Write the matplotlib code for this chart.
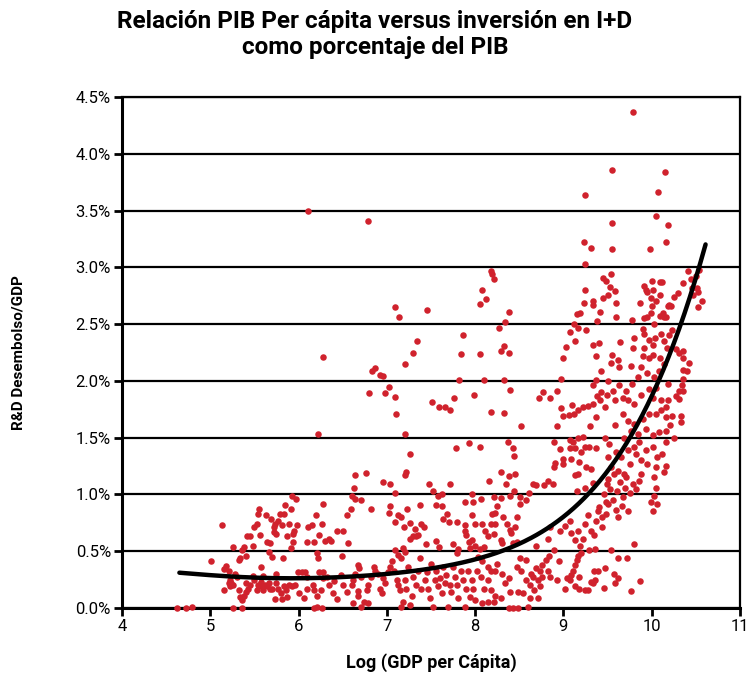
import numpy as np
import matplotlib
matplotlib.use("Agg")
from matplotlib import pyplot as plt

# points, grouped by region: (log GDP per capita, R&D % of GDP)
low_income = [
    (4.62, 0.0), (4.73, 0.0), (4.79, 0.01), (5.01, 0.41), (5.13, 0.73), (5.26, 0.54), (5.26, 0.0),
    (5.36, 0.0), (5.18, 0.37), (5.15, 0.34), (5.21, 0.33), (5.16, 0.16), (5.22, 0.25), (5.24, 0.22),
    (5.28, 0.30), (5.30, 0.27), (5.32, 0.42), (5.34, 0.44), (5.36, 0.51), (5.38, 0.54), (5.41, 0.46),
    (5.42, 0.63), (5.45, 0.63), (5.48, 0.55), (5.50, 0.71), (5.53, 0.74), (5.54, 0.83), (5.55, 0.87),
    (5.56, 0.64), (5.58, 0.36), (5.60, 0.28), (5.63, 0.82), (5.64, 0.58), (5.66, 0.49), (5.68, 0.57),
    (5.70, 0.45), (5.72, 0.71), (5.72, 0.67), (5.73, 0.74), (5.75, 0.65), (5.77, 0.77), (5.69, 0.78),
    (5.74, 0.30), (5.79, 0.83), (5.81, 0.73), (5.82, 0.44), (5.84, 0.83), (5.85, 0.91), (5.87, 0.63),
    (5.89, 0.74), (5.91, 0.87), (5.91, 0.53), (5.92, 0.99), (5.94, 0.58), (5.94, 0.65), (5.95, 0.68),
    (5.97, 0.96), (5.98, 0.73), (5.99, 0.32), (6.04, 0.32), (6.07, 0.32), (6.09, 0.58), (6.09, 0.27),
    (6.11, 0.71), (6.15, 0.73), (6.17, 0.58), (6.20, 0.82), (6.21, 0.48), (6.22, 0.44), (6.23, 0.64),
    (6.23, 0.32), (6.27, 0.74), (6.28, 0.92), (6.28, 0.32), (6.30, 0.59), (6.32, 0.27),
    (5.21, 0.22), (5.22, 0.19), (5.26, 0.20), (5.32, 0.16), (5.34, 0.10), (5.36, 0.07), (5.38, 0.11),
    (5.40, 0.14), (5.41, 0.22), (5.43, 0.17), (5.45, 0.20), (5.48, 0.28), (5.50, 0.25), (5.53, 0.16),
    (5.54, 0.20), (5.56, 0.19), (5.58, 0.23), (5.60, 0.16), (5.62, 0.20), (5.64, 0.19), (5.66, 0.22),
    (5.68, 0.17), (5.70, 0.17), (5.73, 0.08), (5.75, 0.22), (5.77, 0.17), (5.80, 0.13), (5.81, 0.08),
    (5.84, 0.19), (5.86, 0.16), (5.87, 0.10), (5.89, 0.20), (5.92, 0.19), (5.96, 0.20), (6.01, 0.13),
    (6.06, 0.09), (6.09, 0.17), (6.16, 0.20), (6.18, 0.16), (6.21, 0.11), (6.25, 0.16), (6.17, 0.0),
    (6.21, 0.01), (6.26, 0.0),
    (6.11, 3.50), (6.79, 3.41), (6.22, 1.53), (6.28, 2.21),
]

middle_income = [
    (6.64, 1.17), (6.76, 1.19), (7.22, 1.20), (7.20, 1.17), (6.96, 1.11), (7.03, 1.09), (7.09, 1.01),
    (7.48, 1.09), (7.52, 1.03), (7.58, 0.99), (7.63, 1.00), (7.72, 1.09), (7.97, 1.00), (6.63, 1.06),
    (6.61, 0.99), (6.64, 0.96), (6.71, 0.95), (6.82, 0.87), (6.59, 0.87), (6.55, 0.82), (7.03, 0.90),
    (7.02, 0.84), (7.09, 0.76), (7.13, 0.82), (7.16, 0.80), (7.23, 0.87), (7.37, 0.91), (7.56, 0.91),
    (7.63, 0.90), (7.68, 0.83), (7.64, 0.78), (7.70, 0.76), (7.80, 0.76), (7.88, 0.93), (7.98, 0.93),
    (7.96, 0.82), (7.89, 0.73), (8.00, 0.74), (6.43, 0.68), (6.50, 0.68), (6.35, 0.61), (6.37, 0.59),
    (6.56, 0.57), (7.19, 0.71), (7.26, 0.75), (7.32, 0.70), (7.35, 0.64), (7.39, 0.74), (7.42, 0.71),
    (7.26, 0.61), (7.30, 0.63), (7.33, 0.63), (7.44, 0.56), (7.56, 0.59), (7.59, 0.54), (7.75, 0.56),
    (7.81, 0.52), (7.79, 0.48), (7.90, 0.64), (7.93, 0.58), (7.96, 0.60), (8.00, 0.55), (7.88, 0.68),
    (7.94, 0.53), (7.09, 0.51), (7.13, 0.47), (7.18, 0.53), (7.21, 0.49), (7.16, 0.44), (6.49, 0.46),
    (6.28, 0.26), (6.35, 0.20), (6.39, 0.13), (6.43, 0.08), (6.40, 0.24), (6.48, 0.29), (6.50, 0.20),
    (6.55, 0.14), (6.60, 0.20), (6.62, 0.25), (6.64, 0.30), (6.67, 0.38), (6.69, 0.35), (6.71, 0.27),
    (6.67, 0.11), (6.67, 0.15), (6.62, 0.04), (6.71, 0.01), (6.74, 0.055), (6.79, 0.04), (6.79, 0.20),
    (6.77, 0.16), (6.82, 0.27), (6.85, 0.36), (6.87, 0.33), (6.90, 0.30), (6.92, 0.17), (6.94, 0.13),
    (6.96, 0.26), (6.98, 0.22), (7.01, 0.32), (7.03, 0.36), (7.06, 0.41), (7.08, 0.33), (7.11, 0.25),
    (7.13, 0.20), (7.15, 0.16), (7.16, 0.01), (7.18, 0.055), (7.20, 0.25), (7.22, 0.17), (7.24, 0.36),
    (7.26, 0.03), (7.28, 0.11), (7.30, 0.27), (7.33, 0.20), (7.35, 0.33), (7.37, 0.44), (7.39, 0.17),
    (7.43, 0.25), (7.45, 0.32), (7.47, 0.17), (7.49, 0.085), (7.50, 0.39), (7.52, 0.01), (7.54, 0.25),
    (7.56, 0.33), (7.58, 0.19), (7.60, 0.26), (7.62, 0.13), (7.64, 0.36), (7.66, 0.22), (7.67, 0.29),
    (7.69, 0.01), (7.71, 0.20), (7.73, 0.14), (7.75, 0.36), (7.77, 0.27), (7.79, 0.20), (7.81, 0.085),
    (7.84, 0.33), (7.86, 0.25), (7.88, 0.01), (7.90, 0.17), (7.92, 0.33), (7.94, 0.10), (7.96, 0.25),
    (7.98, 0.17), (8.00, 0.07), (8.02, 0.33),
    (6.83, 2.09), (6.87, 2.11), (6.92, 2.05), (6.96, 2.04), (6.80, 1.89), (6.98, 1.89), (7.02, 1.95),
    (7.09, 1.86), (7.10, 1.71), (7.20, 2.15), (7.30, 2.25), (7.34, 2.35), (7.21, 1.53), (7.26, 1.36),
    (7.09, 2.65), (7.14, 2.56), (7.51, 1.81),
]

upper_middle = [
    (8.16, 1.12), (8.29, 1.20), (8.38, 1.16), (8.45, 1.18), (8.35, 1.09), (8.44, 1.03), (8.69, 1.08),
    (8.66, 1.09), (8.78, 1.08), (8.82, 1.12), (8.88, 1.09), (8.61, 1.01), (9.13, 1.17), (9.15, 1.03),
    (9.17, 1.18), (9.24, 1.06), (9.33, 1.10),
    (8.07, 0.96), (8.21, 0.98), (8.29, 0.97), (8.40, 0.99), (8.51, 0.92), (8.58, 0.95), (8.51, 0.98),
    (8.19, 0.83), (8.23, 0.84), (8.18, 0.74), (8.22, 0.74), (8.21, 0.65), (8.11, 0.68), (8.08, 0.74),
    (8.25, 0.90), (8.32, 0.80), (8.36, 0.74), (8.40, 0.69), (8.41, 0.66), (8.45, 0.71), (8.47, 0.80),
    (8.43, 0.57), (8.47, 0.58), (8.29, 0.60), (8.30, 0.57), (8.10, 0.54), (8.05, 0.52), (8.14, 0.63),
    (8.69, 0.55), (8.82, 0.61), (8.85, 0.71), (8.89, 0.51), (8.96, 0.68), (9.02, 0.72), (9.07, 0.77),
    (9.09, 0.66), (9.13, 0.60), (9.17, 0.68), (9.19, 0.55), (9.22, 0.61), (9.24, 0.74), (9.28, 0.82),
    (9.29, 0.51), (9.31, 0.68), (9.35, 0.64),
    (8.03, 0.45), (8.08, 0.41), (8.14, 0.36), (8.18, 0.33), (8.07, 0.27), (8.14, 0.25), (8.23, 0.33),
    (8.25, 0.39), (8.30, 0.30), (8.10, 0.17), (8.18, 0.16), (8.23, 0.11), (8.29, 0.085), (8.08, 0.04),
    (8.14, 0.055), (8.21, 0.055), (8.38, 0.0), (8.43, 0.0), (8.49, 0.0), (8.60, 0.01), (8.34, 0.22),
    (8.38, 0.26), (8.40, 0.14), (8.47, 0.36), (8.51, 0.44), (8.52, 0.33), (8.58, 0.42), (8.58, 0.25),
    (8.62, 0.20), (8.63, 0.30), (8.65, 0.27), (8.69, 0.35), (8.71, 0.25), (8.73, 0.33), (8.74, 0.19),
    (8.76, 0.27), (8.76, 0.38), (8.80, 0.42), (8.82, 0.33), (8.84, 0.46), (8.85, 0.27), (8.62, 0.085),
    (8.71, 0.085), (8.67, 0.16), (8.49, 0.14), (8.54, 0.13), (8.93, 0.25), (8.95, 0.41), (9.02, 0.17),
    (9.04, 0.26), (9.07, 0.25), (9.09, 0.29), (9.11, 0.33), (9.13, 0.38), (9.15, 0.42), (9.17, 0.46),
    (9.20, 0.48), (9.18, 0.27), (9.13, 0.19), (9.18, 0.17), (9.24, 0.16), (9.28, 0.16), (9.31, 0.23),
    (9.35, 0.33), (9.33, 0.22),
    (7.82, 2.01), (8.10, 2.01), (8.33, 2.01), (8.40, 1.92), (7.99, 1.88), (7.76, 1.85), (7.59, 1.77),
    (7.66, 1.77), (7.72, 1.74), (8.18, 1.73), (8.33, 1.72), (8.52, 1.60), (7.93, 1.45), (7.78, 1.41),
    (8.05, 1.42), (8.37, 1.46), (8.43, 1.41), (8.44, 1.34), (8.85, 1.85), (8.77, 1.90), (8.72, 1.85),
    (8.93, 1.91), (8.97, 2.02), (8.97, 1.76), (9.00, 1.69), (9.06, 1.70), (9.10, 1.79), (9.12, 1.71),
    (9.17, 1.74), (9.22, 1.77), (9.28, 1.78), (9.33, 1.80), (9.30, 1.60), (9.38, 1.87), (9.34, 1.96),
    (9.43, 1.90), (8.93, 1.60), (8.89, 1.46), (8.96, 1.40), (9.07, 1.48), (9.11, 1.46), (9.17, 1.50),
    (9.22, 1.51), (9.07, 1.41), (9.13, 1.41), (9.20, 1.37), (9.24, 1.42), (9.29, 1.42), (9.37, 1.41),
    (9.00, 1.31), (9.09, 1.31), (9.18, 1.29), (9.26, 1.24), (9.31, 1.22), (8.91, 1.28), (8.89, 1.24),
    (8.99, 1.27),
]

high_income = [
    (9.37, 0.77), (9.39, 0.85), (9.40, 0.89), (9.44, 0.71), (9.48, 0.93), (9.46, 1.00), (9.49, 1.09),
    (9.51, 1.14), (9.53, 1.05), (9.56, 0.95), (9.59, 0.86), (9.61, 1.03), (9.64, 1.11), (9.66, 0.90),
    (9.68, 0.98), (9.70, 1.06), (9.71, 1.15), (9.73, 0.85), (9.75, 1.01), (9.79, 1.09), (9.82, 1.05),
    (9.86, 1.12), (9.88, 1.18), (9.48, 0.83), (9.44, 0.80), (9.57, 1.18), (9.62, 0.80), (9.50, 0.92),
    (9.36, 0.52), (9.54, 0.51), (9.80, 0.56), (9.62, 0.44), (9.72, 0.44), (9.39, 0.33), (9.47, 0.35),
    (9.36, 0.25), (9.57, 0.30), (9.62, 0.26), (9.58, 0.22), (9.46, 0.18), (9.87, 0.24), (9.76, 0.15),
    (10.03, 1.15), (10.14, 1.20), (10.05, 1.06), (10.03, 0.99), (9.99, 0.93), (10.06, 0.92), (10.01, 0.85),
    (9.54, 2.16), (9.62, 2.18), (9.43, 2.09), (9.37, 2.01), (9.50, 2.00), (9.63, 2.12), (9.77, 2.13),
    (10.14, 2.15), (10.08, 2.09), (10.03, 2.03), (9.95, 2.07), (9.88, 2.12), (9.84, 2.03), (9.78, 1.97),
    (9.71, 1.91), (9.63, 1.96), (9.56, 1.91), (9.49, 1.88), (9.41, 1.83), (9.37, 1.68), (9.47, 1.77),
    (9.58, 1.83), (9.67, 1.85), (9.73, 1.83), (9.80, 1.80), (9.88, 1.88), (9.97, 1.93), (10.05, 1.94),
    (10.01, 1.85), (10.10, 1.83), (10.16, 1.77), (10.19, 1.83), (10.27, 1.87), (10.31, 1.91), (10.34, 1.96),
    (10.36, 2.02), (10.18, 1.97), (10.42, 2.16), (10.36, 2.10), (10.40, 2.09), (9.58, 1.61), (9.67, 1.71),
    (9.73, 1.65), (9.80, 1.62), (9.90, 1.66), (9.97, 1.71), (10.05, 1.71), (10.10, 1.74), (10.16, 1.68),
    (10.23, 1.69), (10.21, 1.61), (10.16, 1.56), (10.08, 1.55), (10.01, 1.52), (9.93, 1.58), (9.84, 1.53),
    (9.77, 1.56), (9.69, 1.50), (9.47, 1.50), (9.52, 1.44), (9.60, 1.37), (9.65, 1.33), (9.73, 1.39),
    (9.80, 1.42), (9.86, 1.46), (9.93, 1.39), (10.01, 1.42), (10.06, 1.33), (10.12, 1.36), (10.16, 1.25),
    (10.05, 1.24), (9.95, 1.27), (9.88, 1.30), (9.82, 1.36), (9.75, 1.27), (9.69, 1.18), (9.62, 1.21),
    (9.54, 1.24), (9.50, 1.33), (10.16, 1.46), (10.25, 1.50), (10.36, 1.91), (10.31, 1.84), (10.33, 1.69),
    (10.33, 1.64),
]

top_spenders = [
    (9.79, 4.37), (9.55, 3.86), (10.15, 3.84), (9.25, 3.64), (10.07, 3.66), (10.05, 3.45), (9.55, 3.39),
    (10.19, 3.37), (9.23, 3.22), (9.31, 3.17), (9.55, 3.16), (9.98, 3.16), (10.16, 3.22), (9.25, 3.03),
    (8.18, 2.97), (8.19, 2.94), (8.21, 2.90), (8.08, 2.80), (8.12, 2.72), (8.05, 2.68), (8.38, 2.61),
    (8.34, 2.52), (8.27, 2.47), (7.46, 2.62), (7.86, 2.40), (7.84, 2.24), (8.05, 2.24), (8.29, 2.26),
    (8.33, 2.31), (8.38, 2.25),
    (9.45, 2.91), (9.48, 2.88), (9.54, 2.94), (9.53, 2.83), (9.58, 2.79), (9.50, 2.76), (9.45, 2.73),
    (9.25, 2.80), (9.23, 2.69), (9.33, 2.70), (9.33, 2.67), (9.41, 2.61), (9.15, 2.59), (9.19, 2.60),
    (9.12, 2.50), (9.16, 2.47), (9.07, 2.43), (9.26, 2.45), (9.38, 2.53), (9.59, 2.56), (9.60, 2.69),
    (9.64, 2.34), (9.55, 2.23), (9.37, 2.22), (9.33, 2.32), (9.40, 2.33), (9.13, 2.35), (9.03, 2.30),
    (9.00, 2.20),
    (9.91, 2.84), (10.00, 2.88), (10.09, 2.87), (10.12, 2.87), (10.02, 2.80), (9.95, 2.78), (9.93, 2.80),
    (9.99, 2.73), (10.09, 2.76), (10.05, 2.70), (10.00, 2.66), (9.99, 2.60), (9.95, 2.56), (9.91, 2.55),
    (9.87, 2.69), (9.78, 2.54), (9.90, 2.46), (10.03, 2.50), (10.09, 2.57), (10.14, 2.56), (10.16, 2.56),
    (10.20, 2.67), (10.18, 2.66), (10.22, 2.66), (10.25, 2.74), (10.30, 2.77), (10.36, 2.86), (10.41, 2.97),
    (10.45, 2.90), (10.50, 2.92), (10.54, 2.98), (10.46, 2.82), (10.51, 2.82), (10.47, 2.76), (10.52, 2.78),
    (10.57, 2.70), (10.52, 2.65), (10.13, 2.60), (10.11, 2.41), (10.14, 2.35), (10.20, 2.40), (10.23, 2.45),
    (10.17, 2.29), (10.09, 2.20), (10.04, 2.38), (10.02, 2.32), (9.97, 2.36), (9.91, 2.41), (9.91, 2.29),
    (9.80, 2.38), (9.79, 2.29), (9.90, 2.22), (9.97, 2.20), (10.02, 2.23), (10.27, 2.28), (10.31, 2.25),
    (10.36, 2.26), (10.35, 2.20),
]

# fitted trend line, read at a few places along its length
trend_x = [4.65, 5.0, 5.5, 6.0, 6.5, 7.0, 7.5, 8.0, 8.16, 8.5, 9.0, 9.27, 9.5, 9.74, 10.08, 10.34, 10.53, 10.61]
trend_y = [0.31, 0.29, 0.27, 0.26, 0.27, 0.30, 0.35, 0.43, 0.47, 0.57, 0.77, 1.00, 1.22, 1.50, 2.00, 2.50, 3.00, 3.20]

y_ticks = [0.0, 0.5, 1.0, 1.5, 2.0, 2.5, 3.0, 3.5, 4.0, 4.5]
x_ticks = [4, 5, 6, 7, 8, 9, 10, 11]

font = ['Roboto', 'DejaVu Sans']

all_points = low_income + middle_income + upper_middle + high_income + top_spenders
xs, ys = zip(*all_points)

fig = plt.figure(figsize=(7.5, 6.82), dpi=100)
ax = fig.add_axes([122 / 750, 74 / 682, 618 / 750, 511 / 682])

ax.scatter(xs, ys, s=22, color='#d0222d', linewidths=0, zorder=3, clip_on=False)

coef = np.polyfit(trend_x, trend_y, 5)
tx = np.linspace(trend_x[0], trend_x[-1], 300)
ax.plot(tx, np.polyval(coef, tx), color='black', lw=3.2, solid_capstyle='round', zorder=4)

ax.set_xlim(4, 11)
ax.set_ylim(0, 4.5)
ax.set_yticks(y_ticks)
ax.set_yticklabels([f"{v:.1f}%" for v in y_ticks], family=font, fontsize=12)
ax.set_xticks(x_ticks)
ax.set_xticklabels([str(v) for v in x_ticks], family=font, fontsize=12)
ax.grid(axis='y', color='black', lw=1.6, zorder=1)
ax.set_axisbelow(True)

for side in ['left', 'bottom']:
    ax.spines[side].set_linewidth(2.2)
for side in ['top', 'right']:
    ax.spines[side].set_linewidth(1.6)
ax.tick_params(axis='both', length=6, width=2, direction='out', pad=2, colors='black')

ax.set_xlabel("Log (GDP per Cápita)", family=font, fontweight='bold', fontsize=13, labelpad=14)
ax.set_ylabel("R&D Desembolso/GDP", family=font, fontweight='bold', fontsize=11, labelpad=36)

fig.text(0.5, 0.986, "Relación PIB Per cápita versus inversión en I+D\ncomo porcentaje del PIB",
         ha='center', va='top', family=font, fontweight='bold', fontsize=17.5, linespacing=1.2)

fig.savefig("out.png", dpi=100)
